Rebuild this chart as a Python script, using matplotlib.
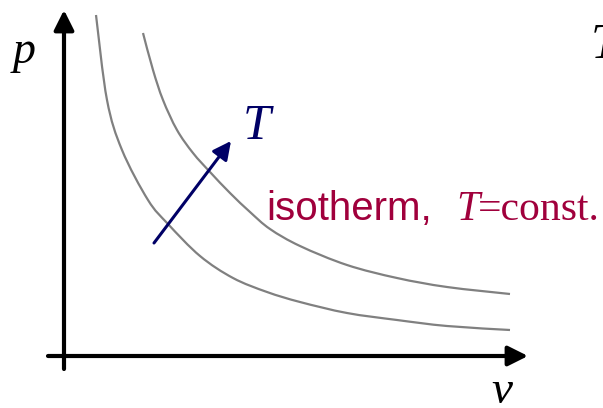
import matplotlib
matplotlib.use('Agg')
import matplotlib.pyplot as plt
from matplotlib.path import Path
from matplotlib.patches import PathPatch

# pixel positions, origin = where the axes cross (64, 356)
x0, y0 = 64, 356

# lower isotherm (x, y) in image pixels
isoLowX = [96, 107, 122, 148, 168, 200, 233, 267, 300, 347, 397, 447, 510]
isoLowY = [15, 100, 150, 200, 224, 256, 278, 292, 302, 313, 320, 326, 330]

# higher isotherm
isoHighX = [143, 153, 163, 177, 193, 210, 230, 250, 270, 300, 347, 397, 447, 510]
isoHighY = [33, 70, 100, 130, 153, 172, 193, 212, 229, 246, 265, 278, 287, 294]

# T arrow: tail and tip
arrowT = [(154, 243), (231, 141)]

def v(x):
    return [xi - x0 for xi in x] if isinstance(x, list) else x - x0

def p(y):
    return [y0 - yi for yi in y] if isinstance(y, list) else y0 - y

def smoothPath(xs, ys):
    # catmull-rom through the read points, drawn as cubic bezier segments
    pts = list(zip(xs, ys))
    verts = [pts[0]]
    codes = [Path.MOVETO]
    n = len(pts)
    for i in range(n - 1):
        pa = pts[max(i - 1, 0)]
        p0 = pts[i]
        p1 = pts[i + 1]
        pb = pts[min(i + 2, n - 1)]
        c1 = (p0[0] + (p1[0] - pa[0]) / 6, p0[1] + (p1[1] - pa[1]) / 6)
        c2 = (p1[0] - (pb[0] - p0[0]) / 6, p1[1] - (pb[1] - p0[1]) / 6)
        verts += [c1, c2, p1]
        codes += [Path.CURVE4] * 3
    return Path(verts, codes)

fig = plt.figure(figsize=(6.03, 4.08), dpi=100)
ax = fig.add_axes([0, 0, 1, 1])
ax.set_xlim(v(0), v(603))
ax.set_ylim(p(408), p(0))
ax.axis('off')

gray = '#808080'
navy = '#000066'
crimson = '#A0003C'

for xs, ys in [(isoLowX, isoLowY), (isoHighX, isoHighY)]:
    ax.add_patch(PathPatch(smoothPath(v(xs), p(ys)), facecolor='none',
                           edgecolor=gray, lw=1.6, capstyle='butt'))

# axes with arrow heads
ax.annotate('', xy=(0, p(10)), xytext=(0, p(369)),
            arrowprops=dict(arrowstyle='-|>,head_length=1.2,head_width=0.6',
                            color='black', lw=3, shrinkA=0, shrinkB=0))
ax.annotate('', xy=(v(528), 0), xytext=(v(48), 0),
            arrowprops=dict(arrowstyle='-|>,head_length=1.2,head_width=0.6',
                            color='black', lw=3, shrinkA=0, shrinkB=0))

# temperature direction arrow
ax.annotate('', xy=(v(arrowT[1][0]), p(arrowT[1][1])),
            xytext=(v(arrowT[0][0]), p(arrowT[0][1])),
            arrowprops=dict(arrowstyle='-|>,head_length=1.1,head_width=0.55',
                            color=navy, lw=2.2, shrinkA=0, shrinkB=0))

serif = 'Liberation Serif'
ax.text(v(257), p(127), 'T', color=navy, fontsize=36, family=serif,
        style='italic', ha='center', va='center')

ax.text(v(24), p(52), 'p', color='black', fontsize=33, family=serif,
        style='italic', ha='center', va='center')
ax.text(v(502), p(392), 'v', color='black', fontsize=34, family=serif,
        style='italic', ha='center', va='center')
ax.text(v(591), p(58), 'T', color='black', fontsize=36, family=serif,
        style='italic', ha='left', va='baseline')

ax.text(v(266), p(220), 'isotherm,', color=crimson, fontsize=29,
        family='Liberation Sans', ha='left', va='baseline')
ax.text(v(456), p(220), 'T', color=crimson, fontsize=30, family=serif,
        style='italic', ha='left', va='baseline')
ax.text(v(478), p(220), '=const.', color=crimson, fontsize=30, family=serif,
        ha='left', va='baseline')

fig.savefig('out.png', dpi=100)
